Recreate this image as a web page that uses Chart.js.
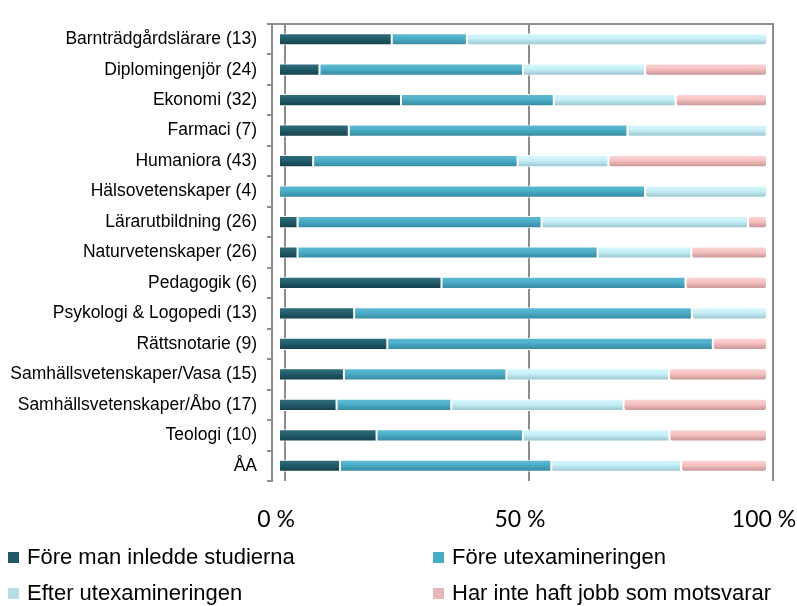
<!DOCTYPE html>
<html>
<head>
<meta charset="utf-8">
<script src="https://cdn.jsdelivr.net/npm/chart.js@4.4.0/dist/chart.umd.min.js"></script>
<style>
  html, body { margin: 0; padding: 0; background: #fff; }
  #wrap { position: relative; width: 797px; height: 606px; }
  #c { position: absolute; left: 0; top: 0; }
  .leg { position: absolute; font-family: "Liberation Sans", Arial, sans-serif;
         font-size: 22px; color: #000; white-space: nowrap; line-height: 26px; }
  .leg span.box { display: inline-block; width: 11px; height: 11px; margin-right: 8px; vertical-align: 1px; }
</style>
</head>
<body>
<div id="wrap">
  <canvas id="c" width="797" height="606"></canvas>
  <div id="legend"></div>
</div>
<script>
const categories = [
  "Barnträdgårdslärare (13)", "Diplomingenjör (24)", "Ekonomi (32)", "Farmaci (7)",
  "Humaniora (43)", "Hälsovetenskaper (4)", "Lärarutbildning (26)", "Naturvetenskaper (26)",
  "Pedagogik (6)", "Psykologi & Logopedi (13)", "Rättsnotarie (9)",
  "Samhällsvetenskaper/Vasa (15)", "Samhällsvetenskaper/Åbo (17)", "Teologi (10)", "ÅA"
];
const seriesNames = ["Före man inledde studierna", "Före utexamineringen", "Efter utexamineringen", "Har inte haft jobb som motsvarar"];
const foreStudier   = [23.1,  8.3, 25.0, 14.3,  7.0,  0.0,  3.8,  3.8, 33.3, 15.4, 22.2, 13.3, 11.8, 20.0, 12.5];
const foreExamen    = [15.4, 41.7, 31.3, 57.1, 41.9, 75.0, 50.0, 61.5, 50.0, 69.2, 66.7, 33.3, 23.5, 30.0, 43.3];
const efterExamen   = [61.5, 25.0, 25.0, 28.6, 18.6, 25.0, 42.3, 19.2,  0.0, 15.4,  0.0, 33.3, 35.3, 30.0, 26.6];
const ingetJobb     = [ 0.0, 25.0, 18.7,  0.0, 32.5,  0.0,  3.9, 15.5, 16.7,  0.0, 11.1, 20.1, 29.4, 20.0, 17.6];
const tickValues = [0, 50, 100];

const legendColors = ["#215968", "#4bacc6", "#b7dee8", "#e6b9b8"];
const gradStops = [
  ["#33707f", "#235d6c", "#143d48"],
  ["#62bdd5", "#4badc7", "#35869c"],
  ["#dcf8fd", "#c6eff7", "#97c1c9"],
  ["#fdd6d6", "#f6c1c1", "#c28f8f"]
];

function makeBg(si) {
  return function(ctx) {
    const chart = ctx.chart;
    const ys = chart.scales && chart.scales.y;
    if (!ys || ctx.dataIndex === undefined) return legendColors[si];
    const y = ys.getPixelForValue(ctx.dataIndex);
    if (!Number.isFinite(y)) return legendColors[si];
    const g = chart.ctx.createLinearGradient(0, y - 6, 0, y + 6);
    const s = gradStops[si];
    g.addColorStop(0, s[0]);
    g.addColorStop(0.45, s[1]);
    g.addColorStop(1, s[2]);
    return g;
  };
}

const seriesData = [foreStudier, foreExamen, efterExamen, ingetJobb];
const datasets = seriesNames.map((name, i) => ({
  label: name,
  data: seriesData[i],
  backgroundColor: makeBg(i),
  borderColor: "#ffffff",
  borderWidth: 1,
  borderSkipped: false,
  borderRadius: 3,
  barPercentage: 0.4,
  categoryPercentage: 1.0,
  xAxisID: "x",
  yAxisID: "y"
}));

const gridGray = "#8c8c8c";
const labelFont = { family: "'Liberation Sans', Arial, sans-serif", size: 17.5 };

new Chart(document.getElementById("c"), {
  type: "bar",
  data: { labels: categories, datasets },
  options: {
    indexAxis: "y",
    responsive: false,
    animation: false,
    layout: { padding: { top: 24, right: 24, bottom: 65, left: 0 } },
    plugins: { legend: { display: false }, tooltip: { enabled: false } },
    scales: {
      x: {
        type: "linear", stacked: true, position: "bottom",
        min: -1.434, max: 101.23,
        afterBuildTicks: s => { s.ticks = tickValues.map(v => ({ value: v })); },
        afterFit: s => { s.height = 60; s.paddingLeft = 0; s.paddingRight = 0; },
        grid: { display: false, drawTicks: false },
        border: { display: false },
        ticks: {
          padding: 25, labelOffset: -3, color: "#000",
          font: { family: "Lato, 'Open Sans', sans-serif", size: 23 },
          callback: v => v + " %"
        }
      },
      x2: {
        type: "linear", position: "top",
        min: -2.664, max: 100.0,
        afterBuildTicks: s => { s.ticks = tickValues.map(v => ({ value: v })); },
        afterFit: s => { s.height = 0; s.paddingLeft = 0; s.paddingRight = 0; },
        grid: { display: true, color: gridGray, lineWidth: 2, drawTicks: false },
        border: { display: true, color: gridGray, width: 2 },
        ticks: { display: false }
      },
      y: {
        type: "category", stacked: true,
        afterFit: s => { s.width = 272; },
        grid: { display: true, drawOnChartArea: false, drawTicks: true, tickLength: 5, color: gridGray, lineWidth: 2, offset: true },
        border: { display: true, color: gridGray, width: 2 },
        ticks: { padding: 10, color: "#000", font: labelFont, autoSkip: false }
      }
    }
  }
});

// HTML legend
const legendPos = [[8, 544], [433, 544], [8, 580], [433, 580]];
const lg = document.getElementById("legend");
seriesNames.forEach((n, i) => {
  const d = document.createElement("div");
  d.className = "leg";
  d.style.left = legendPos[i][0] + "px";
  d.style.top = legendPos[i][1] + "px";
  d.innerHTML = '<span class="box" style="background:' + legendColors[i] + '"></span>' + n;
  lg.appendChild(d);
});
</script>
</body>
</html>
